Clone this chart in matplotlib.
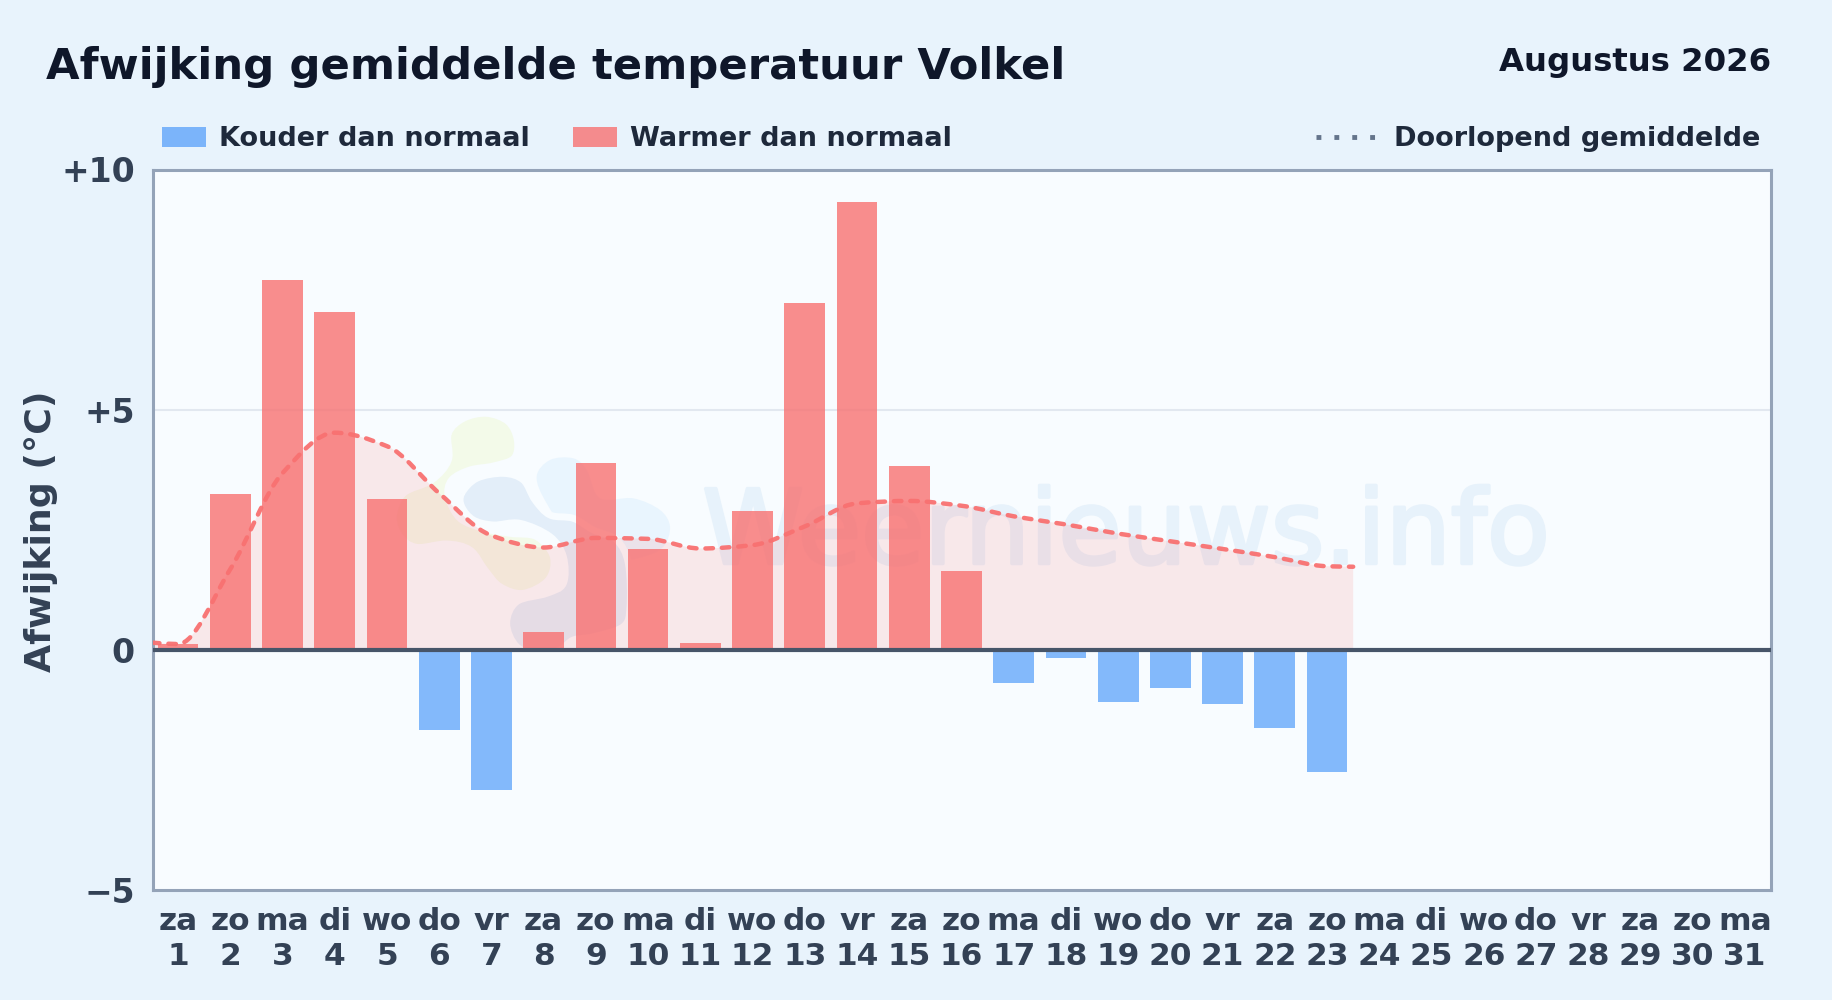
import matplotlib
matplotlib.use("Agg")
import matplotlib.pyplot as plt
import matplotlib.patheffects as pe
from matplotlib.patches import PathPatch, Rectangle
from matplotlib.path import Path
from matplotlib.transforms import IdentityTransform
import numpy as np

days = list(range(1, 32))
weekdays = ["za", "zo", "ma", "di", "wo", "do", "vr", "za", "zo", "ma", "di", "wo", "do", "vr", "za", "zo",
            "ma", "di", "wo", "do", "vr", "za", "zo", "ma", "di", "wo", "do", "vr", "za", "zo", "ma"]
anomaly = [0.12, 3.24, 7.69, 7.04, 3.15, -1.67, -2.91, 0.37, 3.89, 2.10, 0.14, 2.88,
           7.23, 9.32, 3.83, 1.64, -0.70, -0.17, -1.08, -0.80, -1.12, -1.62, -2.54]
# running mean, with the line's lead-in and tail at the edges of day 1 and day 23
mean_x = [0.5, 1, 2, 3, 4, 5, 6, 7, 8, 9, 10, 11, 12, 13, 14, 15, 16, 17, 18, 19, 20, 21, 22, 23, 23.5]
mean_y = [0.15, 0.12, 1.68, 3.68, 4.52, 4.24, 3.26, 2.38, 2.13, 2.33, 2.31, 2.11, 2.18, 2.57,
          3.05, 3.10, 3.00, 2.78, 2.61, 2.42, 2.26, 2.10, 1.93, 1.74, 1.73]
y_ticks = [-5, 0, 5, 10]
y_labels = ["\u22125", "0", "+5", "+10"]

W, H = 1832, 1000
BG = "#e8f3fc"
PLOT_BG = "#f8fcff"
RED = "#f87171"
BLUE = "#60a5fa"
DARK = "#0f172a"
LEGEND_TEXT = "#1e293b"
TICK_TEXT = "#334155"

plt.rcParams["font.family"] = "DejaVu Sans"
plt.rcParams["font.weight"] = "bold"

fig = plt.figure(figsize=(W / 100, H / 100), dpi=100, facecolor=BG)
L, R, T, B = 153, 1771, 169.5, 890
ax = fig.add_axes([L / W, 1 - B / H, (R - L) / W, (B - T) / H], facecolor=PLOT_BG)
ax.set_xlim(0.52, 31.5)
ax.set_ylim(-5, 10)


def monotone_path(x, y):
    # monotone cubic through the points, as bezier segments
    x = np.array(x, dtype=float)
    y = np.array(y, dtype=float)
    h = np.diff(x)
    s = np.diff(y) / h
    m = np.zeros(len(x))
    for i in range(1, len(x) - 1):
        if s[i - 1] * s[i] > 0:
            m[i] = 2 * s[i - 1] * s[i] / (s[i - 1] + s[i])
    m[0] = s[0]
    m[-1] = s[-1]
    verts = [(x[0], y[0])]
    codes = [Path.MOVETO]
    for i in range(len(x) - 1):
        verts += [(x[i] + h[i] / 3, y[i] + m[i] * h[i] / 3),
                  (x[i + 1] - h[i] / 3, y[i + 1] - m[i + 1] * h[i] / 3),
                  (x[i + 1], y[i + 1])]
        codes += [Path.CURVE4] * 3
    return verts, codes


def blob(points, color, edge="none"):
    # closed smooth shape in figure pixels, for the faint logo
    pts = np.array([(360 + px / 3, H - (390 + py / 3)) for px, py in points])
    n = len(pts)
    verts = [pts[0]]
    codes = [Path.MOVETO]
    for i in range(n):
        p0, p1, p2, p3 = pts[i - 1], pts[i], pts[(i + 1) % n], pts[(i + 2) % n]
        verts += [p1 + (p2 - p0) / 6, p2 - (p3 - p1) / 6, p2]
        codes += [Path.CURVE4] * 3
    ax.add_patch(PathPatch(Path(verts, codes), facecolor=color, edgecolor=edge, lw=5,
                           transform=IdentityTransform(), zorder=0.3))


blob([(530, 260), (570, 210), (640, 205), (680, 240), (720, 325), (820, 325), (900, 360), (930, 410),
      (910, 470), (850, 500), (760, 510), (640, 450), (560, 340)], "#e9f5fe")
blob([(305, 310), (350, 265), (430, 250), (490, 270), (525, 330), (570, 375), (640, 385), (700, 420),
      (770, 450), (805, 520), (810, 650), (790, 710), (700, 740), (640, 750), (600, 780), (540, 795),
      (470, 770), (440, 700), (470, 635), (560, 610), (610, 580), (610, 500), (570, 440), (480, 400),
      (400, 405), (340, 390), (305, 350)], "#e3eef9", PLOT_BG)
blob([(265, 130), (310, 85), (380, 70), (445, 95), (472, 150), (462, 205), (400, 228), (330, 240),
      (275, 270), (265, 320), (300, 385), (370, 415), (450, 430), (530, 440), (580, 500), (565, 570),
      (490, 610), (420, 590), (375, 540), (330, 480), (260, 462), (170, 472), (120, 440), (100, 380),
      (130, 310), (215, 270), (265, 210)], "#f3fae9", PLOT_BG)

ax.text(1126, H - 535, "Weernieuws.info", transform=IdentityTransform(), ha="center", va="center",
        fontsize=74, fontweight="normal", color="#e7f2fb", zorder=0.5,
        path_effects=[pe.withStroke(linewidth=2.5, foreground="#e7f2fb")])

ax.axhline(5, color="#e2e8f0", lw=1.5, zorder=1)

verts, codes = monotone_path(mean_x, mean_y)
fill_verts = verts + [(mean_x[-1], 0), (mean_x[0], 0), (mean_x[0], mean_y[0])]
fill_codes = codes + [Path.LINETO, Path.LINETO, Path.LINETO]
ax.add_patch(PathPatch(Path(fill_verts, fill_codes), facecolor=RED, alpha=0.14, edgecolor="none", zorder=2))

for day, value in zip(days, anomaly):
    if value >= 0:
        ax.bar(day, value, width=0.78, color=RED, alpha=0.8, linewidth=0, zorder=3)
    else:
        ax.bar(day, value, width=0.78, color=BLUE, alpha=0.77, linewidth=0, zorder=3)

ax.add_patch(PathPatch(Path(verts, codes), facecolor="none", edgecolor=RED, lw=3.2,
                       linestyle=(0, (1.7, 2.0)), capstyle="round", alpha=0.95, zorder=4))
ax.axhline(0, color="#475569", lw=3, zorder=5)

ax.set_xticks(days)
ax.set_xticklabels([f"{d}\n{n}" for d, n in zip(weekdays, days)], fontsize=22.5, color=TICK_TEXT, linespacing=1.27)
ax.set_yticks(y_ticks)
ax.set_yticklabels(y_labels, fontsize=23.8, color=TICK_TEXT, va="center_baseline")
ax.tick_params(axis="x", length=0, pad=12)
ax.tick_params(axis="y", length=0, pad=13)
for s in ax.spines.values():
    s.set_color("#94a3b8")
    s.set_linewidth(2.2)
ax.set_ylabel("Afwijking (\u00b0C)", fontsize=26.2, fontweight="bold", color=TICK_TEXT)
ax.yaxis.set_label_coords(58.5 / W, 1 - 531 / H, transform=fig.transFigure)

fig.text(46 / W, 1 - 66.5 / H, "Afwijking gemiddelde temperatuur Volkel", fontsize=31.2, color=DARK, va="center")
fig.text(1771 / W, 1 - 62 / H, "Augustus 2026", fontsize=23.3, color=DARK, va="center", ha="right")


def legend_box(x, color, label):
    fig.add_artist(Rectangle((x / W, 1 - 147 / H), 44 / W, 20 / H, transform=fig.transFigure,
                             facecolor=color, alpha=0.8, edgecolor="none"))
    fig.text((x + 57) / W, 1 - 138.5 / H, label, fontsize=19.5, color=LEGEND_TEXT, va="center")


legend_box(162, BLUE, "Kouder dan normaal")
legend_box(573, RED, "Warmer dan normaal")
fig.add_artist(plt.Line2D([1316 / W, 1375 / W], [1 - 137 / H, 1 - 137 / H], transform=fig.transFigure,
                          color="#64748b", lw=3.5, linestyle=(0, (1, 2.68))))
fig.text(1760 / W, 1 - 138.5 / H, "Doorlopend gemiddelde", fontsize=19.5, color=LEGEND_TEXT, va="center", ha="right")

fig.savefig("out.png", dpi=100, facecolor=BG)
